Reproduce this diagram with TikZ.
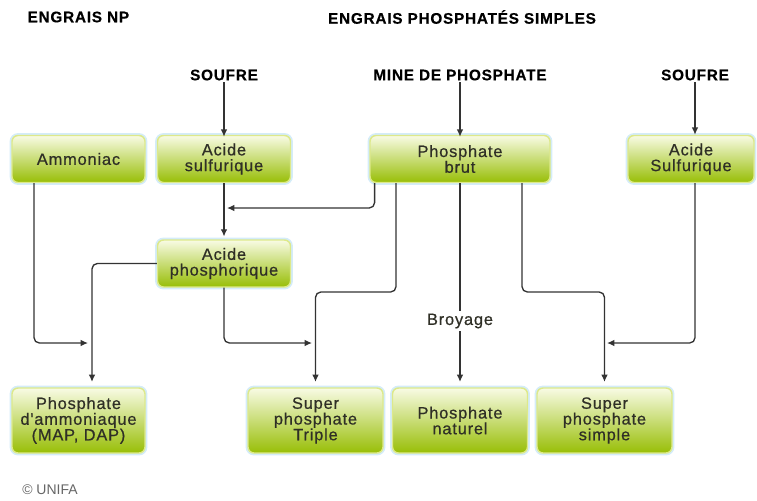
\documentclass[tikz,border=0pt]{standalone}
\usepackage{fontspec}
\setmainfont{Liberation Sans}
\newfontfamily\boxfont[LetterSpace=5,FakeBold=0.6]{Liberation Sans}
\newfontfamily\headfont[LetterSpace=5,FakeBold=0.4]{Liberation Sans}
\usetikzlibrary{arrows.meta}
\definecolor{boxtop}{HTML}{F8FBE4}
\definecolor{boxmid}{HTML}{CFE240}
\definecolor{boxbot}{HTML}{98BE06}
\definecolor{boxedge}{HTML}{DDE98A}
\definecolor{glow}{HTML}{D4ECF8}
\definecolor{txt}{HTML}{2F2F26}
\definecolor{linec}{HTML}{333333}
\begin{document}
\begin{tikzpicture}[x=0.75pt,y=-0.75pt,
  box/.style={rounded corners=4.5pt, minimum width=99.75pt, minimum height=35.25pt,
    draw=boxedge, line width=1.1pt, top color=boxtop, middle color=boxmid, bottom color=boxbot,
    preaction={draw=glow, line width=3.6pt, rounded corners=4.5pt},
    align=center, inner sep=0pt, text=txt,
    font=\boxfont\fontsize{12.3}{11.8}\selectfont},
  tallbox/.style={box, minimum height=48.75pt},
  head/.style={font=\headfont\bfseries\fontsize{11.5}{12}\selectfont, text=black, inner sep=1pt},
  lbl/.style={font=\boxfont\fontsize{12.3}{12}\selectfont, text=txt, inner sep=2pt},
  arr/.style={-{Latex[length=5.5pt,width=5pt]}, draw=linec, line width=1pt, rounded corners=4pt},
  ln/.style={draw=linec, line width=1pt, rounded corners=4pt}]
\useasboundingbox (0,0) rectangle (757,500);

% headers
\node[head, anchor=west] (hnp) at (26,17) {ENGRAIS NP};
\node[head] (hps) at (462,17) {ENGRAIS PHOSPHATÉS SIMPLES};
\node[head] (s1) at (224,75) {SOUFRE};
\node[head] (mine) at (460,75) {MINE DE PHOSPHATE};
\node[head] (s2) at (695,75) {SOUFRE};

% boxes
\node[box] (amm) at (78.5,159) {Ammoniac};
\node[box] (asulf) at (224,159) {Acide\\sulfurique};
\node[box, minimum width=135pt] (brut) at (460,159) {Phosphate\\brut};
\node[box, minimum width=94.5pt] (asulf2) at (691,159) {Acide\\Sulfurique};
\node[box] (aphos) at (224,263.5) {Acide\\phosphorique};
\node[tallbox] (pam) at (78.5,420.5) {Phosphate\\d'ammoniaque\\(MAP, DAP)};
\node[tallbox, minimum width=101.25pt] (spt) at (315.5,420.5) {Super\\phosphate\\Triple};
\node[tallbox, minimum width=101.25pt] (pnat) at (460,420.5) {Phosphate\\naturel};
\node[tallbox, minimum width=101.25pt] (sps) at (604.5,420.5) {Super\\phosphate\\simple};

\node[lbl] (broy) at (460,321) {Broyage};
\node[font=\fontsize{10.5}{11}\selectfont, text=black!60, anchor=west, inner sep=0pt] (cr) at (22,490) {© UNIFA};

% coordinates
\coordinate (j1) at (227,208);
\coordinate (b1) at (396,292);
\coordinate (b2) at (522,292);
\coordinate (j2) at (607,343);
\coordinate (j3) at (88,343);
\coordinate (a1) at (34,343);
\coordinate (p1) at (92,263.5);
\coordinate (j4) at (312,343);

% connectors
\draw[arr] (s1.south) -- ([yshift=-1.5pt]asulf.north);
\draw[arr] (mine.south) -- ([yshift=-1.5pt]brut.north);
\draw[arr] (s2.south) -- (s2.south |- asulf2.north);
\draw[arr] (asulf.south) -- ([yshift=2pt]aphos.north);
\draw[arr] ([xshift=4pt]brut.south west) |- (j1);
\draw[arr] (brut.south -| b1) -- (b1) -- (b1 -| spt.north) -- ([yshift=4pt]spt.north);
\draw[ln] (brut.south) -- (broy.north);
\draw[arr] (broy.south) -- ([yshift=4pt]pnat.north);
\draw[arr] (brut.south -| b2) -- (b2) -- (b2 -| sps.north) -- ([yshift=4pt]sps.north);
\draw[arr] (asulf2.south -| s2) |- (j2);
\draw[arr] (amm.south -| a1) |- (j3);
\draw[arr] (aphos.west) -- (p1) -- ([yshift=4pt]pam.north -| p1);
\draw[arr] (aphos.south) |- (j4);
\end{tikzpicture}
\end{document}
